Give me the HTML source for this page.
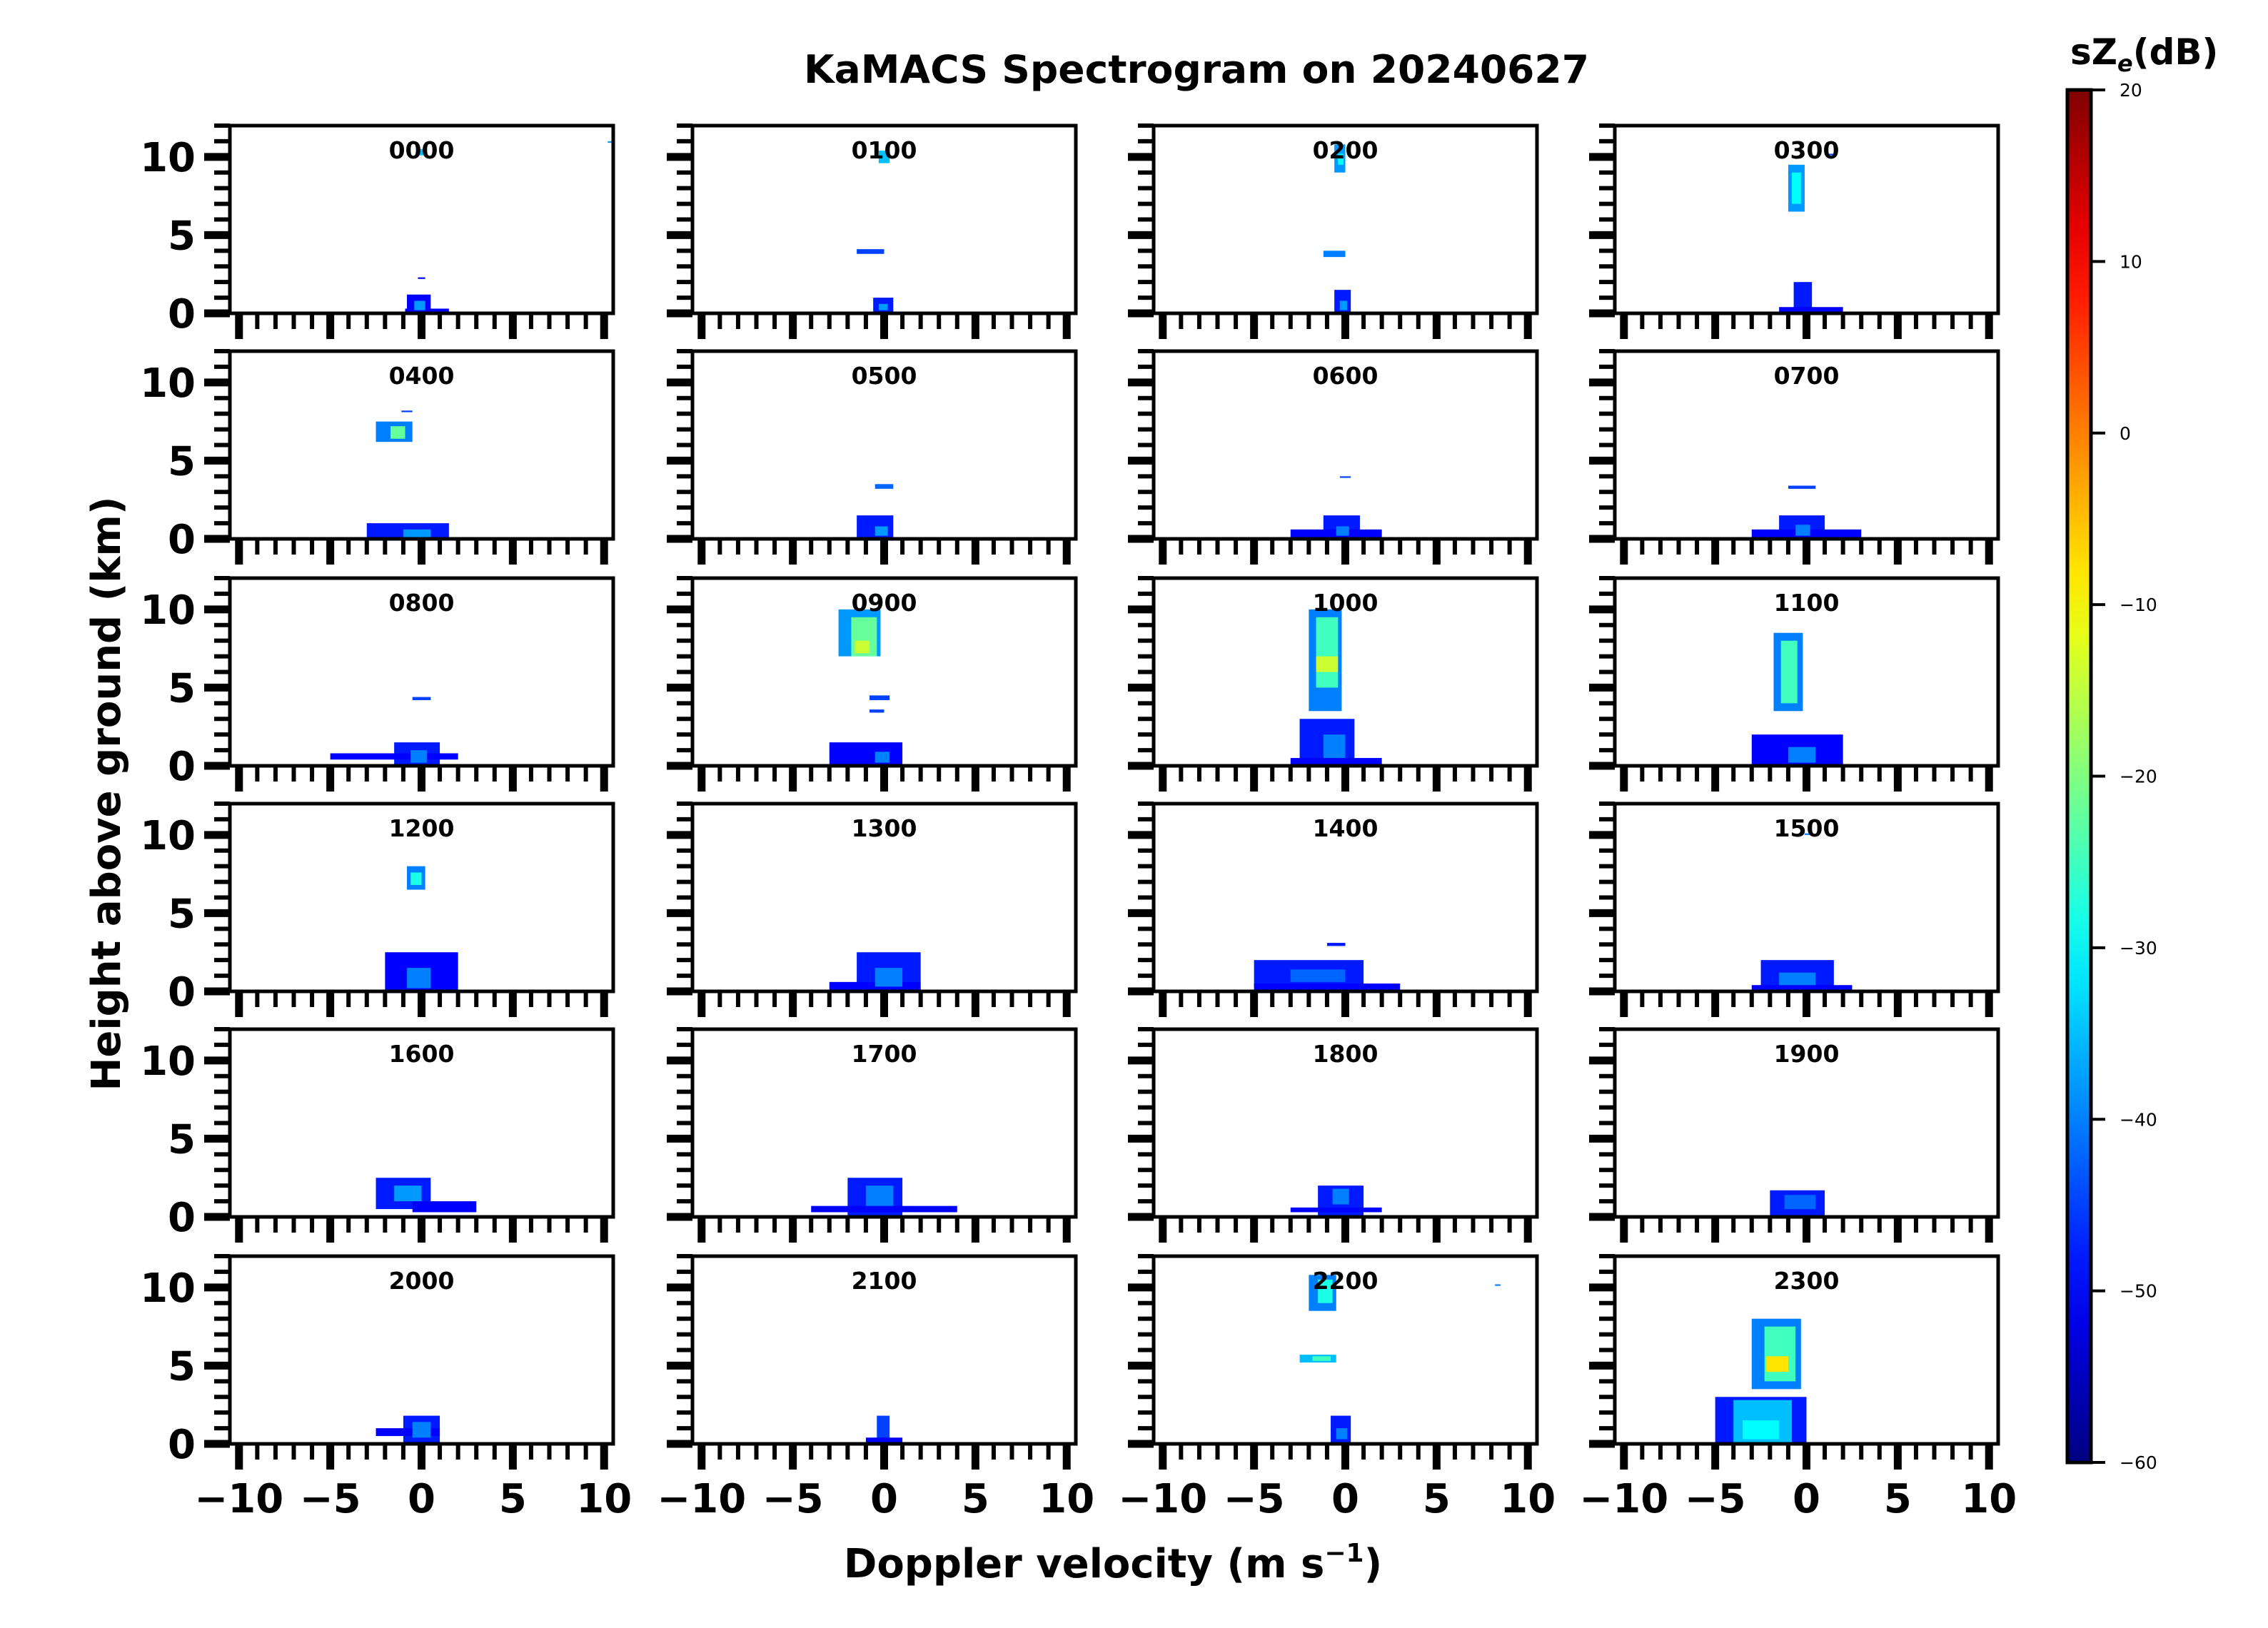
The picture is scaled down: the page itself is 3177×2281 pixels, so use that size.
<!DOCTYPE html>
<html><head><meta charset="utf-8"><style>
html,body{margin:0;padding:0;background:#fff;}
svg{display:block;font-family:"DejaVu Sans","Liberation Sans",sans-serif;}
</style></head><body>
<svg id="fig" width="3177" height="2281" viewBox="0 0 3177 2281" xmlns="http://www.w3.org/2000/svg">
<rect width="3177" height="2281" fill="#fff"/>
<text x="1676" y="116" text-anchor="middle" font-size="54" font-weight="bold" textLength="1100" lengthAdjust="spacingAndGlyphs">KaMACS Spectrogram on 20240627</text>
<text x="1559" y="2210" text-anchor="middle" font-size="56" font-weight="bold">Doppler velocity (m s<tspan font-size="36" dy="-22">−1</tspan><tspan dy="22">)</tspan></text>
<text transform="translate(168,1112) rotate(-90)" text-anchor="middle" font-size="56" font-weight="bold">Height above ground (km)</text>
<g id="panels"></g>
<g id="cbar"></g>
</svg>
<script>
const panelLabels = ["0000","0100","0200","0300","0400","0500","0600","0700","0800","0900","1000","1100","1200","1300","1400","1500","1600","1700","1800","1900","2000","2100","2200","2300"];
const xTickLabels = ["−10","−5","0","5","10"];
const xTickValues = [-10,-5,0,5,10];
const yTickValues = [0,5,10];
const cbarTicks = [20,10,0,-10,-20,-30,-40,-50,-60];
// segments per panel: [h0(km), h1(km), v0(m/s), v1(m/s), dB]
const segments = [
 [[0,1.2,-0.8,0.5,-50],[0,0.3,-0.9,1.5,-50],[0.2,0.8,-0.4,0.2,-38],[10.1,10.5,-0.2,0.3,-35],[2.2,2.3,-0.2,0.2,-50],[10.9,11,10.2,10.5,-38]],
 [[9.6,10.4,-0.3,0.3,-35],[3.8,4.1,-1.5,0,-45],[0,1,-0.6,0.5,-48],[0.2,0.6,-0.3,0.2,-38]],
 [[9,10.8,-0.6,0,-38],[9.5,10.2,-0.4,-0.1,-30],[3.6,4.0,-1.2,0,-40],[0,1.5,-0.6,0.3,-48],[0.2,0.8,-0.3,0.1,-38]],
 [[6.5,9.5,-1,-0.1,-38],[7,9,-0.8,-0.3,-30],[0,2,-0.7,0.3,-48],[0,0.4,-1.5,2,-50],[10.1,10.2,1.2,1.5,-45]],
 [[6.2,7.5,-2.5,-0.5,-40],[6.4,7.2,-1.7,-0.9,-22],[8.1,8.2,-1.1,-0.5,-45],[0,1,-3,1.5,-48],[0.1,0.6,-1,0.5,-38]],
 [[3.2,3.5,-0.5,0.5,-42],[0,1.5,-1.5,0.5,-48],[0.2,0.8,-0.5,0.2,-38]],
 [[3.9,4.0,-0.3,0.3,-45],[0,1.5,-1.2,0.8,-48],[0.1,0.6,-3,2,-50],[0.2,0.8,-0.5,0.2,-40]],
 [[3.2,3.4,-1,0.5,-45],[0,1.5,-1.5,1,-48],[0,0.6,-3,3,-50],[0.2,0.9,-0.6,0.2,-40]],
 [[4.2,4.4,-0.5,0.5,-45],[0,1.5,-1.5,1,-48],[0.4,0.8,-5,2,-50],[0.2,1,-0.6,0.3,-40]],
 [[7,10,-2.5,-0.2,-38],[7,9.5,-1.8,-0.4,-22],[7.2,8,-1.6,-0.8,-14],[4.2,4.5,-0.8,0.3,-45],[3.4,3.6,-0.8,0,-45],[0,1.5,-3,1,-50],[0.2,0.9,-0.5,0.3,-40]],
 [[3.5,10,-2,-0.2,-40],[5,9.5,-1.6,-0.4,-25],[6,7,-1.6,-0.4,-14],[0,3,-2.5,0.5,-48],[0,0.5,-3,2,-50],[0.5,2,-1.2,0,-40]],
 [[3.5,8.5,-1.8,-0.2,-40],[4,8,-1.4,-0.5,-25],[0,2,-3,2,-50],[0.2,1.2,-1,0.5,-40]],
 [[6.5,8,-0.8,0.2,-40],[6.8,7.6,-0.6,0,-28],[0,2.5,-2,2,-50],[0.2,1.5,-0.8,0.5,-40]],
 [[0,2.5,-1.5,2,-48],[0,0.6,-3,2,-50],[0.3,1.5,-0.5,1,-40]],
 [[0.3,2,-5,1,-48],[0,0.5,-5,3,-50],[2.9,3.1,-1,0,-48],[0.6,1.4,-3,0,-42]],
 [[0,2,-2.5,1.5,-48],[0,0.4,-3,2.5,-50],[0.4,1.2,-1.5,0.5,-40],[10,10.1,-0.1,0.2,-40]],
 [[0.5,2.5,-2.5,0.5,-48],[0.3,1,-0.5,3,-50],[1,2,-1.5,0,-38]],
 [[0,2.5,-2,1,-48],[0.3,0.7,-4,4,-50],[0.7,2,-1,0.5,-40]],
 [[0,2,-1.5,1,-48],[0.3,0.6,-3,2,-50],[0.8,1.8,-0.7,0.2,-40]],
 [[0,1.7,-2,1,-48],[0.5,1.4,-1.2,0.5,-42]],
 [[0,1.8,-1,1,-48],[0.5,1,-2.5,1,-50],[0.4,1.4,-0.5,0.5,-40]],
 [[0,1.8,-0.4,0.3,-45],[0,0.4,-1,1,-50]],
 [[8.5,10.8,-2,-0.5,-40],[9,10.5,-1.5,-0.7,-28],[5.2,5.7,-2.5,-0.5,-35],[5.3,5.6,-1.8,-0.8,-25],[0,1.8,-0.8,0.3,-48],[0.3,1,-0.5,0.1,-40],[10.1,10.2,8.2,8.5,-40]],
 [[3.5,8,-3,-0.3,-40],[4,7.5,-2.3,-0.6,-25],[4.6,5.6,-2.2,-1,-8],[0,3,-5,0,-48],[0,2.8,-4,-0.8,-35],[0.3,1.5,-3.5,-1.5,-30]]
];

const NS="http://www.w3.org/2000/svg";
function el(tag, attrs, parent){const e=document.createElementNS(NS,tag);for(const k in attrs)e.setAttribute(k,attrs[k]);parent.appendChild(e);return e;}
function jet(t){t=Math.max(0,Math.min(1,t));
 const r=Math.max(0,Math.min(1,1.5-Math.abs(4*t-3))),g=Math.max(0,Math.min(1,1.5-Math.abs(4*t-2))),b=Math.max(0,Math.min(1,1.5-Math.abs(4*t-1)));
 return `rgb(${Math.round(r*255)},${Math.round(g*255)},${Math.round(b*255)})`;}
function dbColor(d){return jet((d+60)/80);}

const colLeft=[322,970,1616,2262], rowTop=[176,492,810,1126,1442,1760];
const PW=537, PH=263, XMIN=-10.5, XMAX=10.5, YMIN=0, YMAX=12;
const panelsG=document.getElementById('panels');
panelLabels.forEach((lab,i)=>{
 const c=i%4, r=Math.floor(i/4), L=colLeft[c], T=rowTop[r];
 const sx=v=>L+(v-XMIN)/(XMAX-XMIN)*PW;
 const sy=h=>T+(YMAX-h)/(YMAX-YMIN)*PH;
 const g=el('g',{},panelsG);
 
 
 segments[i].forEach(s=>{
  const x0=sx(s[2]),x1=sx(s[3]),y0=sy(s[1]),y1=sy(s[0]);
  const rc=el('rect',{x:x0,y:y0,width:Math.max(2,x1-x0),height:Math.max(2,y1-y0),fill:dbColor(s[4])},g);
  
  
 });
 const t=el('text',{x:L+PW/2,y:T+46,'text-anchor':'middle','font-size':33,'font-weight':'bold'},g);
 t.textContent=lab;
 
 
 const fr=el('rect',{x:L,y:T,width:PW,height:PH,fill:'none',stroke:'#000','stroke-width':5},g);
 
 
 for(let h=0;h<=12;h++){
  const major=yTickValues.includes(h);
  el('line',{x1:L-(major?36:22),x2:L,y1:sy(h),y2:sy(h),stroke:'#000','stroke-width':major?11:6},g);
 }
 for(let v=-10;v<=10;v++){
  const major=xTickValues.includes(v);
  el('line',{x1:sx(v),x2:sx(v),y1:T+PH,y2:T+PH+(major?36:22),stroke:'#000','stroke-width':major?11:6},g);
 }
 if(c===0){yTickValues.forEach(h=>{const tt=el('text',{x:L-48,y:sy(h)+20,'text-anchor':'end','font-size':56,'font-weight':'bold'},g);tt.textContent=String(h);
  
  });}
 if(r===5){xTickValues.forEach((v,k)=>{const tt=el('text',{x:sx(v),y:T+PH+96,'text-anchor':'middle','font-size':56,'font-weight':'bold'},g);tt.textContent=xTickLabels[k];
  
  });}
});

const cb=document.getElementById('cbar');
const CBL=2896, CBR=2929, CBT=126, CBB=2049;
const defs=el('defs',{},cb);
const grad=el('linearGradient',{id:'jetg',x1:0,y1:1,x2:0,y2:0},defs);
for(let k=0;k<=20;k++){el('stop',{offset:k/20,'stop-color':jet(k/20)},grad);}
const cr=el('rect',{x:CBL,y:CBT,width:CBR-CBL,height:CBB-CBT,fill:'url(#jetg)',stroke:'#000','stroke-width':5},cb);


const cy=d=>CBB-(d+60)/80*(CBB-CBT);
cbarTicks.forEach(d=>{
 el('line',{x1:CBR,x2:CBR+20,y1:cy(d),y2:cy(d),stroke:'#000','stroke-width':4},cb);
 const tt=el('text',{x:CBR+40,y:cy(d)+9,'font-size':25},cb);
 tt.textContent=d<0?('−'+Math.abs(d)):String(d);
 
 
});
const ct=el('text',{x:2900,y:90,'font-size':50,'font-weight':'bold'},cb);
ct.innerHTML='sZ<tspan font-size="32" dy="10" font-style="italic">e</tspan><tspan dy="-10">(dB)</tspan>';


</script>
</body></html>
